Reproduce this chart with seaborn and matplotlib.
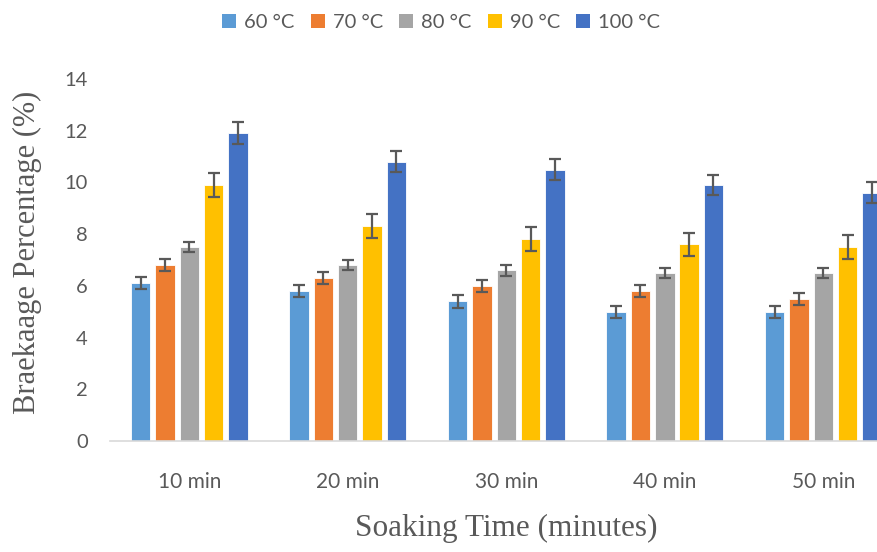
import numpy as np
import pandas as pd
import seaborn as sns
import matplotlib.pyplot as plt
from matplotlib.patches import Patch

# data
times = ['10 min', '20 min', '30 min', '40 min', '50 min']
temps = ['60 °C', '70 °C', '80 °C', '90 °C', '100 °C']
t60 = [6.1, 5.8, 5.4, 5.0, 5.0]
t70 = [6.8, 6.3, 6.0, 5.8, 5.5]
t80 = [7.5, 6.8, 6.6, 6.5, 6.5]
t90 = [9.9, 8.3, 7.8, 7.6, 7.5]
t100 = [11.9, 10.8, 10.5, 9.9, 9.6]
err60 = [0.24, 0.24, 0.24, 0.24, 0.23]
err70 = [0.23, 0.23, 0.22, 0.23, 0.23]
err80 = [0.2, 0.2, 0.22, 0.2, 0.2]
err90 = [0.46, 0.46, 0.46, 0.46, 0.45]
err100 = [0.42, 0.4, 0.4, 0.4, 0.4]

colors = ['#5B9BD5', '#ED7D31', '#A5A5A5', '#FFC000', '#4472C4']

vals = [t60, t70, t80, t90, t100]
errs = [err60, err70, err80, err90, err100]
df = pd.DataFrame({
    'time': times * len(temps),
    'temp': [t for t in temps for _ in times],
    'value': sum(vals, []),
})

sns.set_style('white')
plt.rcParams['font.family'] = ['Lato', 'DejaVu Sans']

fig = plt.figure(figsize=(8.77, 5.52), dpi=100)
ax = fig.add_axes([110 / 877, 111 / 552, 0.9037, 362 / 552])

sns.barplot(data=df, x='time', y='value', hue='temp', order=times,
            hue_order=temps, palette=colors, width=0.767, gap=0.2,
            errorbar=None, edgecolor='white', linewidth=0.6,
            saturation=1, legend=False, ax=ax)

# error bars on each bar
for cont, e in zip(ax.containers, errs):
    xs = [p.get_x() + p.get_width() / 2 for p in cont.patches]
    ys = [p.get_height() for p in cont.patches]
    ax.errorbar(xs, ys, yerr=e, fmt='none', ecolor='#595959',
                elinewidth=1.6, capsize=4.3, capthick=1.6, zorder=3)

ax.set_ylim(0, 14)
ax.set_xlim(-0.5, 4.5)
ax.set_yticks(range(0, 15, 2))
for s in ['top', 'right', 'left']:
    ax.spines[s].set_visible(False)
ax.spines['bottom'].set_color('#D9D9D9')
ax.spines['bottom'].set_linewidth(1.2)
ax.tick_params(axis='y', length=0, pad=16, labelsize=14.5, labelcolor='#595959')
ax.tick_params(axis='x', length=0, pad=22, labelsize=15, labelcolor='#595959')

ax.set_xlabel('Soaking Time (minutes)', family='Liberation Serif',
              fontsize=22.5, color='#595959', labelpad=16)
ax.set_ylabel('Braekaage Percentage (%)', family='Liberation Serif',
              fontsize=22, color='#595959')
ax.yaxis.set_label_coords(-0.0855, 0.522)

handles = [Patch(facecolor=c, edgecolor='none') for c in colors]
fig.legend(handles, temps, loc='upper center', bbox_to_anchor=(0.503, 1.008),
           ncol=5, frameon=False, fontsize=14.5, labelcolor='#595959',
           handlelength=0.7, handleheight=0.7, handletextpad=0.4,
           columnspacing=0.8)

fig.savefig('out.png', dpi=100)
